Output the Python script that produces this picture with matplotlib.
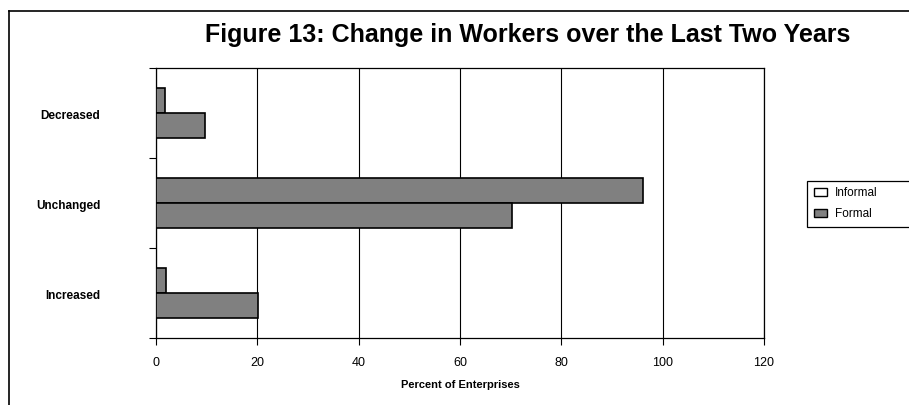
import numpy as np
import matplotlib
matplotlib.use('Agg')
import matplotlib.pyplot as plt
from matplotlib.patches import Rectangle
from matplotlib.lines import Line2D

plt.rcParams['font.family'] = ['Liberation Sans', 'DejaVu Sans']

# survey shares, percent of enterprises
categories = ['Increased', 'Unchanged', 'Decreased']
informal = [2.0, 96.2, 1.7]
formal = [20.1, 70.2, 9.7]
xticks = [0, 20, 40, 60, 80, 100, 120]
series_names = ['Informal', 'Formal']

W, H = 909, 406
fig = plt.figure(figsize=(W / 100, H / 100), dpi=100)
ax = fig.add_axes([0.1716, 0.165, 0.6689, 0.665])

pos = np.arange(len(categories))
h = 0.28
bar_style = dict(height=h, color='#808080', edgecolor='black', linewidth=1.2, zorder=3)
ax.barh(pos + 0.14, informal, **bar_style)
ax.barh(pos - 0.14, formal, **bar_style)

ax.set_xlim(0, 120)
ax.set_ylim(-0.5, 2.5)
ax.set_xticks(xticks)
ax.set_xticklabels([str(v) for v in xticks], fontsize=9)
ax.tick_params(axis='x', direction='out', length=5, width=0.8, pad=8)
ax.xaxis.grid(True, color='black', linewidth=0.8, zorder=1)

# category boundaries carry the tick marks, names sit between them
ax.set_yticks([-0.5, 0.5, 1.5, 2.5])
ax.set_yticklabels([])
ax.tick_params(axis='y', direction='out', length=5, width=0.8)
ax.set_yticks(pos, minor=True)
ax.set_yticklabels(categories, minor=True, fontsize=8.5, fontweight='bold')
ax.tick_params(axis='y', which='minor', length=0, pad=40)

for s in ax.spines.values():
    s.set_color('black')
    s.set_linewidth(0.9)

ax.set_xlabel('Percent of Enterprises', fontsize=8, fontweight='bold', labelpad=8)

fig.text(0.58, 0.913, 'Figure 13: Change in Workers over the Last Two Years',
         ha='center', va='center', fontsize=18, fontweight='bold')

# legend box, running off the right edge
def fx(px):
    return px / W

def fy(py):
    return 1 - py / H

fig.add_artist(Rectangle((fx(807), fy(228)), fx(120), 46 / H, transform=fig.transFigure,
                         facecolor='white', edgecolor='black', linewidth=0.9))
for i, (name, fc) in enumerate(zip(series_names, ['white', '#808080'])):
    yc = 193 + i * 21
    fig.add_artist(Rectangle((fx(814), fy(yc + 4)), fx(13), 8 / H, transform=fig.transFigure,
                             facecolor=fc, edgecolor='black', linewidth=1.0))
    fig.text(fx(835), fy(yc), name, fontsize=8.5, ha='left', va='center')

# outer chart border (top and left edges)
fig.add_artist(Line2D([fx(9), fx(9)], [0, fy(12)], color='black', linewidth=1.2))
fig.add_artist(Line2D([fx(9), 1], [fy(12), fy(12)], color='black', linewidth=1.2))

fig.savefig('out.png', dpi=100)
